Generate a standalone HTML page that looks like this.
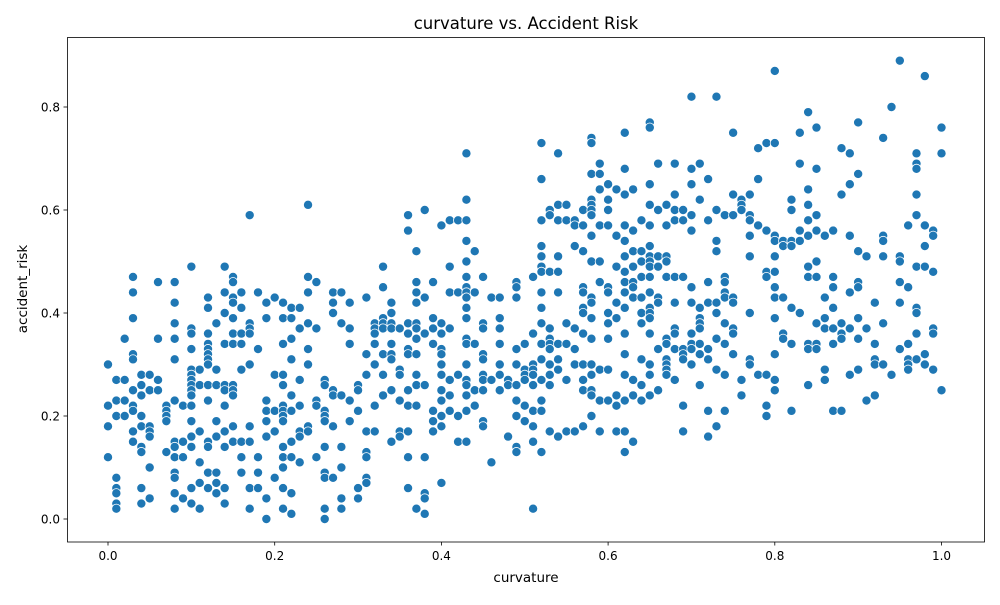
<!DOCTYPE html>
<html><head><meta charset="utf-8"><style>
html,body{margin:0;padding:0;background:#fff;}
svg text{font-family:"DejaVu Sans","Liberation Sans",sans-serif;fill:#000;}
</style></head><body>
<svg id="chart" width="1000" height="600" viewBox="0 0 1000 600" xmlns="http://www.w3.org/2000/svg">
<rect x="0" y="0" width="1000" height="600" fill="#fff"/>
<text x="526" y="29" font-size="16.5" text-anchor="middle">curvature vs. Accident Risk</text>
<g id="marks"></g>
<g id="axes"></g>
<rect x="67.5" y="37.5" width="917" height="504.5" fill="none" stroke="#000" stroke-width="0.8"/>
<text x="526" y="582" font-size="13.5" text-anchor="middle">curvature</text>
<text x="0" y="0" font-size="13.5" text-anchor="middle" transform="translate(27,289) rotate(-90)">accident_risk</text>
</svg>
<script>
const curvatureLevels = [0.00,0.01,0.02,0.03,0.04,0.05,0.06,0.07,0.08,0.09,0.10,0.11,0.12,0.13,0.14,0.15,0.16,0.17,0.18,0.19,0.20,0.21,0.22,0.23,0.24,0.25,0.26,0.27,0.28,0.29,0.30,0.31,0.32,0.33,0.34,0.35,0.36,0.37,0.38,0.39,0.40,0.41,0.42,0.43,0.44,0.45,0.46,0.47,0.48,0.49,0.50,0.51,0.52,0.53,0.54,0.55,0.56,0.57,0.58,0.59,0.60,0.61,0.62,0.63,0.64,0.65,0.66,0.67,0.68,0.69,0.70,0.71,0.72,0.73,0.74,0.75,0.76,0.77,0.78,0.79,0.80,0.81,0.82,0.83,0.84,0.85,0.86,0.87,0.88,0.89,0.90,0.91,0.92,0.93,0.94,0.95,0.96,0.97,0.98,0.99,1.00];
const riskByLevel = [
[0.30,0.22,0.18,0.12],
[0.27,0.23,0.20,0.08,0.06,0.05,0.03,0.02],
[0.35,0.27,0.23,0.20],
[0.47,0.44,0.39,0.32,0.31,0.25,0.22,0.21,0.17,0.15],
[0.28,0.26,0.24,0.20,0.18,0.14,0.13,0.06,0.03],
[0.28,0.25,0.18,0.17,0.16,0.10,0.04],
[0.46,0.35,0.27,0.25],
[0.22,0.21,0.20,0.19,0.13],
[0.46,0.42,0.38,0.35,0.31,0.23,0.15,0.14,0.12,0.09,0.08,0.05,0.02],
[0.22,0.15,0.12,0.04],
[0.49,0.37,0.36,0.33,0.29,0.28,0.27,0.26,0.25,0.24,0.22,0.19,0.16,0.14,0.06,0.03],
[0.29,0.26,0.17,0.11,0.07,0.02],
[0.43,0.41,0.36,0.34,0.33,0.32,0.31,0.30,0.26,0.23,0.15,0.14,0.09,0.06],
[0.38,0.29,0.26,0.19,0.16,0.09,0.07,0.05],
[0.49,0.44,0.40,0.34,0.26,0.25,0.22,0.17,0.14,0.06,0.03],
[0.47,0.46,0.43,0.42,0.39,0.36,0.34,0.26,0.25,0.24,0.18,0.15],
[0.44,0.41,0.36,0.34,0.29,0.15,0.12,0.09],
[0.59,0.38,0.37,0.36,0.30,0.18,0.15,0.06,0.02],
[0.44,0.33,0.12,0.09,0.06],
[0.42,0.39,0.23,0.21,0.19,0.16,0.04,0.00],
[0.43,0.28,0.21,0.17,0.08],
[0.42,0.39,0.34,0.28,0.26,0.22,0.21,0.20,0.19,0.14,0.12,0.10,0.06,0.02],
[0.41,0.39,0.35,0.31,0.24,0.21,0.15,0.12,0.05,0.01],
[0.41,0.37,0.27,0.22,0.17,0.16,0.11],
[0.61,0.47,0.44,0.38,0.33,0.30,0.18,0.17],
[0.46,0.37,0.23,0.22,0.12],
[0.27,0.26,0.21,0.20,0.19,0.14,0.09,0.08,0.02,0.00],
[0.44,0.42,0.40,0.25,0.24,0.18,0.08],
[0.44,0.38,0.24,0.14,0.10,0.04,0.02],
[0.42,0.37,0.34,0.23,0.19],
[0.26,0.25,0.21,0.06,0.04],
[0.43,0.32,0.28,0.17,0.13,0.12,0.08,0.07],
[0.38,0.37,0.36,0.34,0.30,0.22,0.17],
[0.49,0.45,0.39,0.38,0.37,0.32,0.28,0.24],
[0.42,0.40,0.38,0.37,0.34,0.32,0.31,0.25,0.15],
[0.37,0.29,0.28,0.23,0.17,0.16],
[0.59,0.56,0.38,0.36,0.33,0.32,0.25,0.22,0.17,0.12,0.06],
[0.52,0.46,0.44,0.42,0.38,0.37,0.35,0.32,0.28,0.26,0.22,0.02],
[0.60,0.43,0.36,0.26,0.12,0.05,0.04,0.01],
[0.46,0.39,0.37,0.34,0.21,0.19,0.17],
[0.57,0.38,0.36,0.33,0.32,0.30,0.28,0.25,0.23,0.20,0.18,0.07],
[0.58,0.49,0.44,0.37,0.27,0.24,0.21],
[0.58,0.44,0.28,0.20,0.15],
[0.71,0.62,0.58,0.54,0.50,0.47,0.45,0.44,0.43,0.41,0.39,0.35,0.34,0.30,0.27,0.26,0.24,0.21,0.15],
[0.52,0.44,0.34,0.25,0.22],
[0.47,0.38,0.37,0.32,0.31,0.28,0.27,0.25,0.19,0.18],
[0.43,0.27,0.11],
[0.43,0.39,0.37,0.34,0.30,0.28,0.25],
[0.27,0.26,0.16],
[0.46,0.45,0.43,0.33,0.30,0.26,0.23,0.20,0.14,0.13],
[0.34,0.29,0.28,0.27,0.22,0.19],
[0.47,0.36,0.30,0.29,0.28,0.26,0.21,0.18,0.15,0.02],
[0.73,0.66,0.58,0.53,0.51,0.49,0.48,0.44,0.41,0.38,0.34,0.31,0.27,0.23,0.21,0.13],
[0.60,0.59,0.48,0.37,0.35,0.34,0.33,0.30,0.28,0.26,0.17],
[0.71,0.61,0.58,0.51,0.48,0.44,0.34,0.31,0.29,0.16],
[0.61,0.58,0.38,0.34,0.27,0.17],
[0.58,0.57,0.53,0.37,0.33,0.30,0.17],
[0.60,0.57,0.52,0.45,0.44,0.41,0.40,0.36,0.30,0.27,0.25,0.18],
[0.74,0.73,0.67,0.62,0.61,0.60,0.59,0.55,0.50,0.43,0.42,0.39,0.35,0.30,0.28,0.25,0.24,0.20],
[0.69,0.67,0.64,0.57,0.50,0.46,0.29,0.23,0.17],
[0.65,0.62,0.60,0.57,0.45,0.44,0.40,0.38,0.35,0.29,0.23],
[0.64,0.55,0.49,0.42,0.39,0.24,0.22,0.17],
[0.75,0.68,0.63,0.57,0.54,0.51,0.48,0.46,0.44,0.41,0.36,0.32,0.28,0.23,0.17,0.13],
[0.64,0.56,0.52,0.49,0.46,0.45,0.43,0.27,0.24,0.15],
[0.58,0.52,0.50,0.47,0.43,0.40,0.38,0.31,0.26,0.23],
[0.77,0.76,0.65,0.61,0.57,0.53,0.51,0.50,0.49,0.47,0.44,0.41,0.40,0.39,0.36,0.30,0.28,0.24],
[0.69,0.60,0.51,0.49,0.43,0.42,0.33,0.25],
[0.61,0.57,0.51,0.50,0.47,0.35,0.34,0.31,0.30,0.29,0.28],
[0.69,0.63,0.60,0.58,0.47,0.42,0.37,0.36,0.33,0.27],
[0.60,0.58,0.47,0.33,0.32,0.31,0.22,0.17],
[0.82,0.68,0.65,0.59,0.56,0.45,0.42,0.36,0.34,0.33,0.30],
[0.69,0.62,0.41,0.39,0.38,0.37,0.34,0.32,0.26],
[0.66,0.58,0.46,0.42,0.33,0.31,0.21,0.16],
[0.82,0.60,0.54,0.52,0.42,0.40,0.35,0.29,0.18],
[0.59,0.47,0.46,0.44,0.43,0.38,0.34,0.28,0.21],
[0.75,0.63,0.59,0.43,0.42,0.37,0.36,0.32],
[0.62,0.61,0.60,0.27,0.24],
[0.63,0.59,0.58,0.55,0.51,0.40,0.31,0.30],
[0.72,0.66,0.57,0.28],
[0.73,0.56,0.48,0.47,0.28,0.22,0.20],
[0.87,0.73,0.55,0.54,0.51,0.48,0.45,0.43,0.39,0.32,0.27,0.25],
[0.54,0.53,0.43,0.36,0.35],
[0.62,0.60,0.54,0.53,0.41,0.34,0.21],
[0.75,0.69,0.56,0.54,0.40],
[0.79,0.64,0.61,0.58,0.55,0.49,0.47,0.34,0.33,0.26],
[0.76,0.68,0.59,0.56,0.50,0.47,0.38,0.34,0.33],
[0.55,0.43,0.39,0.37,0.29,0.27],
[0.56,0.47,0.45,0.41,0.37,0.34,0.21],
[0.72,0.63,0.38,0.36,0.35,0.21],
[0.71,0.65,0.55,0.44,0.37,0.28],
[0.77,0.67,0.52,0.46,0.45,0.39,0.35,0.29],
[0.51,0.37,0.23],
[0.42,0.34,0.31,0.30,0.24],
[0.74,0.55,0.54,0.51,0.38,0.30],
[0.80,0.28],
[0.89,0.51,0.50,0.46,0.42,0.33],
[0.57,0.45,0.34,0.31,0.30,0.29],
[0.71,0.69,0.68,0.63,0.59,0.49,0.41,0.40,0.36,0.31],
[0.86,0.57,0.53,0.49,0.32,0.30],
[0.56,0.55,0.48,0.37,0.36,0.29],
[0.76,0.71,0.25]
];
const xTickValues = [0.0,0.2,0.4,0.6,0.8,1.0];
const xTickLabels = ["0.0","0.2","0.4","0.6","0.8","1.0"];
const yTickValues = [0.0,0.2,0.4,0.6,0.8];
const yTickLabels = ["0.0","0.2","0.4","0.6","0.8"];

function xScale(v){ return 108 + v*833.5; }
function yScale(v){ return 519 - v*515; }
const NS = "http://www.w3.org/2000/svg";
const marks = document.getElementById('marks');
const axes = document.getElementById('axes');

for (let i = 0; i < curvatureLevels.length; i++) {
  const risks = riskByLevel[i] || [];
  for (let j = 0; j < risks.length; j++) {
    const c = document.createElementNS(NS, 'circle');
    c.setAttribute('cx', xScale(curvatureLevels[i]));
    c.setAttribute('cy', yScale(risks[j]));
    c.setAttribute('r', 4.6);
    c.setAttribute('fill', '#1f77b4');
    c.setAttribute('stroke', '#fff');
    c.setAttribute('stroke-width', 0.8);
    
    
    marks.appendChild(c);
  }
}

for (let i = 0; i < xTickValues.length; i++) {
  const x = xScale(xTickValues[i]);
  const t = document.createElementNS(NS, 'line');
  t.setAttribute('x1', x); t.setAttribute('x2', x);
  t.setAttribute('y1', 542); t.setAttribute('y2', 545.5);
  t.setAttribute('stroke', '#000'); t.setAttribute('stroke-width', 0.8);
  
  
  axes.appendChild(t);
  const l = document.createElementNS(NS, 'text');
  l.setAttribute('x', x); l.setAttribute('y', 560);
  l.setAttribute('font-size', '12'); l.setAttribute('text-anchor', 'middle');
  l.textContent = xTickLabels[i];
  
  
  axes.appendChild(l);
}
for (let i = 0; i < yTickValues.length; i++) {
  const y = yScale(yTickValues[i]);
  const t = document.createElementNS(NS, 'line');
  t.setAttribute('x1', 63.5); t.setAttribute('x2', 67.5);
  t.setAttribute('y1', y); t.setAttribute('y2', y);
  t.setAttribute('stroke', '#000'); t.setAttribute('stroke-width', 0.8);
  
  
  axes.appendChild(t);
  const l = document.createElementNS(NS, 'text');
  l.setAttribute('x', 60); l.setAttribute('y', y + 4.5);
  l.setAttribute('font-size', '12'); l.setAttribute('text-anchor', 'end');
  l.textContent = yTickLabels[i];
  
  
  axes.appendChild(l);
}
</script>
</body></html>
